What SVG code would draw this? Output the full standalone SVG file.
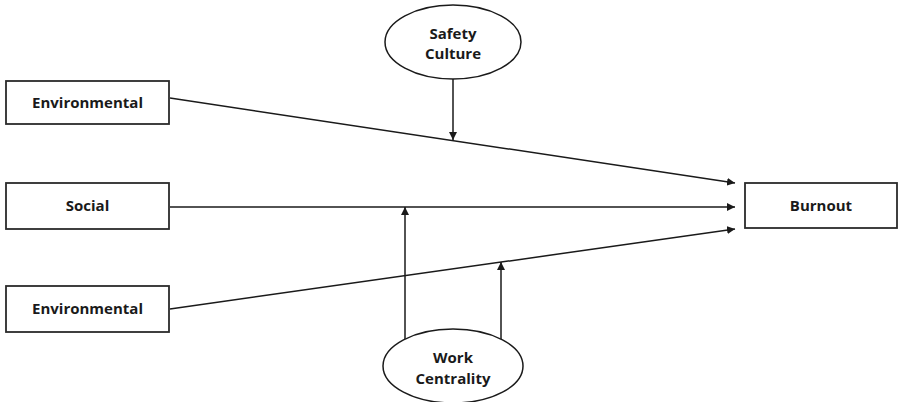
<svg xmlns="http://www.w3.org/2000/svg" width="898" height="402" viewBox="0 0 898 402">
<defs>
<marker id="ah" viewBox="0 0 10 10" refX="10" refY="5" markerWidth="8" markerHeight="8" markerUnits="userSpaceOnUse" orient="auto">
<path d="M0,0 L10,5 L0,10 z" fill="#1a1a1a"/>
</marker>
<style>
.box{fill:#fff;stroke:#2b2b2b;stroke-width:1.8}
.ell{fill:#fff;stroke:#1a1a1a;stroke-width:1.5}
.lbl{font-family:"Open Sans","Liberation Sans",sans-serif;font-weight:700;font-size:15px;fill:#1a1a1a;text-anchor:middle}
.ln{stroke:#1a1a1a;stroke-width:1.5;fill:none}
</style>
</defs>
<rect width="898" height="402" fill="#fff"/>
<g id="connectors">
<line class="ln" x1="170" y1="98" x2="735" y2="183" marker-end="url(#ah)"/>
<line class="ln" x1="170" y1="207" x2="735" y2="207" marker-end="url(#ah)"/>
<line class="ln" x1="170" y1="309" x2="735" y2="229" marker-end="url(#ah)"/>
<line class="ln" x1="453" y1="79" x2="453" y2="140" marker-end="url(#ah)"/>
<line class="ln" x1="405" y1="339" x2="405" y2="207" marker-end="url(#ah)"/>
<line class="ln" x1="501" y1="340" x2="501" y2="262" marker-end="url(#ah)"/>
</g>
<g id="env1">
<rect class="box" x="6" y="81" width="163" height="43"/>
<text class="lbl" x="87.5" y="108">Environmental</text>
</g>
<g id="social">
<rect class="box" x="6" y="183" width="163" height="46"/>
<text class="lbl" x="87.5" y="211">Social</text>
</g>
<g id="env2">
<rect class="box" x="6" y="286" width="163" height="46"/>
<text class="lbl" x="87.5" y="314">Environmental</text>
</g>
<g id="burnout">
<rect class="box" x="745" y="183" width="152" height="45"/>
<text class="lbl" x="821" y="211">Burnout</text>
</g>
<g id="safety">
<ellipse class="ell" cx="453" cy="42" rx="68" ry="37"/>
<text class="lbl" x="453" y="38.5">Safety</text>
<text class="lbl" x="453" y="59">Culture</text>
</g>
<g id="work">
<ellipse class="ell" cx="453" cy="366" rx="70" ry="37"/>
<text class="lbl" x="453" y="362.5">Work</text>
<text class="lbl" x="453" y="383.5">Centrality</text>
</g>
</svg>
